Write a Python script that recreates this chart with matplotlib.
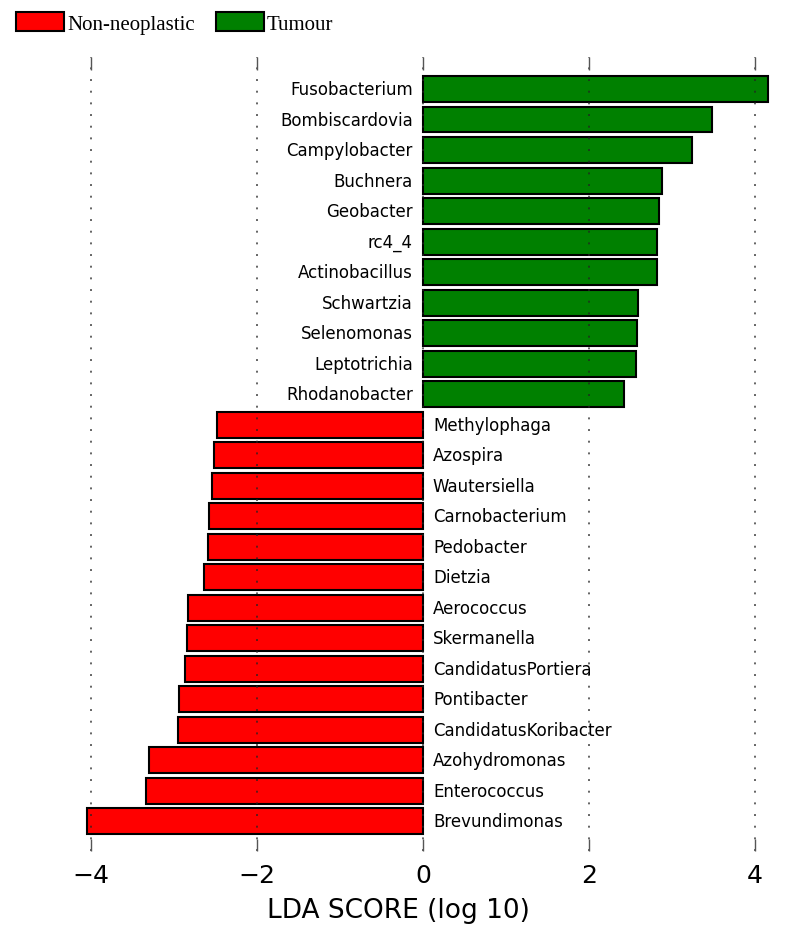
import matplotlib
matplotlib.use("Agg")
import matplotlib.pyplot as plt
from matplotlib.patches import Patch

taxa = ["Fusobacterium", "Bombiscardovia", "Campylobacter", "Buchnera", "Geobacter",
        "rc4_4", "Actinobacillus", "Schwartzia", "Selenomonas", "Leptotrichia",
        "Rhodanobacter", "Methylophaga", "Azospira", "Wautersiella", "Carnobacterium",
        "Pedobacter", "Dietzia", "Aerococcus", "Skermanella", "CandidatusPortiera",
        "Pontibacter", "CandidatusKoribacter", "Azohydromonas", "Enterococcus",
        "Brevundimonas"]
lda = [4.16, 3.48, 3.24, 2.88, 2.84, 2.82, 2.82, 2.59, 2.58, 2.57, 2.42,
       -2.48, -2.52, -2.54, -2.58, -2.59, -2.64, -2.83, -2.84, -2.86, -2.94,
       -2.95, -3.30, -3.33, -4.04]
groups = ["Non-neoplastic", "Tumour"]
group_colors = ["#ff0000", "#008000"]
xticks = [-4, -2, 0, 2, 4]

fig = plt.figure(figsize=(7.87, 9.37), dpi=100)
ax = fig.add_axes([80/787, 1-852/937, 695/787, (852-58)/937])

n = len(taxa)
ys = list(range(n))[::-1]
colors = [group_colors[1] if v > 0 else group_colors[0] for v in lda]
ax.barh(ys, lda, height=0.85, color=colors, edgecolor="black", linewidth=1.5, zorder=2)

for y, name, v in zip(ys, taxa, lda):
    if v > 0:
        ax.text(-0.12, y, name, ha="right", va="center", fontsize=12, zorder=4)
    else:
        ax.text(0.12, y, name, ha="left", va="center", fontsize=12, zorder=4)

ax.set_xlim(-4.13, 4.24)
ax.set_ylim(-0.98, n - 1 + 1.05)
ax.set_xticks(xticks)
ax.set_xticklabels(["\u22124", "\u22122", "0", "2", "4"], fontsize=18)
ax.set_yticks([])
ax.tick_params(axis="x", direction="in", length=9, width=1, top=True, bottom=True,
               pad=9, color="#555555")
for s in ax.spines.values():
    s.set_visible(False)
ax.grid(axis="x", linestyle=(0, (1, 5)), color="#222222", linewidth=1.4, alpha=0.7, zorder=3)
ax.set_axisbelow(False)
ax.set_xlabel("LDA SCORE (log 10)", fontsize=19)
ax.xaxis.set_label_coords((398-80)/695, -0.058)

handles = [Patch(facecolor=c, edgecolor="black", linewidth=1.5, label=g)
           for g, c in zip(groups, group_colors)]
fig.legend(handles=handles, loc="upper left", bbox_to_anchor=(-0.003, 1.006), ncol=2,
           frameon=False, prop={"family": "Liberation Serif", "size": 15},
           handlelength=2.3, handleheight=1.0, handletextpad=0.15, columnspacing=1.0)

fig.savefig("out.png", dpi=100)
